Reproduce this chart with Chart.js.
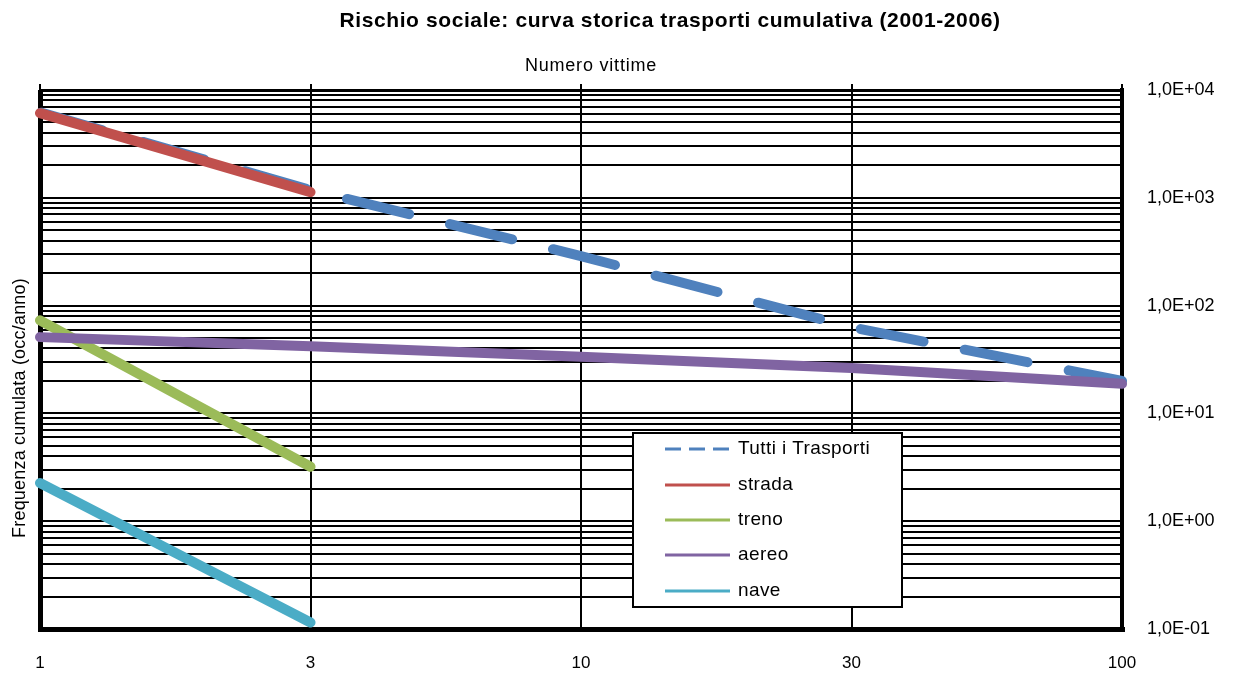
<!DOCTYPE html>
<html>
<head>
<meta charset="utf-8">
<script src="https://cdn.jsdelivr.net/npm/chart.js@4"></script>
<style>
  html, body { margin: 0; padding: 0; background: #fff; }
  #wrap { width: 1233px; height: 677px; position: relative; }
</style>
</head>
<body>
<div id="wrap"><canvas id="rischio"></canvas></div>
<script>
// categorie (numero vittime)
const categories = ["1", "3", "10", "30", "100"];

// frequenze cumulate (occ/anno)
const tutti  = [6200, 1180, 288, 63, 20];
const strada = [6100, 1130, null, null, null];
const treno  = [73, 3.2, null, null, null];
const aereo  = [51, 42, 33.6, 26.4, 18.8];
const nave   = [2.26, 0.115, null, null, null];

const yMajor = [0.1, 1, 10, 100, 1000, 10000];

const FONT = "'Liberation Sans', Arial, sans-serif";

// tick log: 1..9 x 10^k
function logTicks() {
  const out = [];
  for (let e = -1; e < 4; e++) {
    for (let d = 1; d <= 9; d++) out.push(+(d * Math.pow(10, e)).toPrecision(3));
  }
  out.push(10000);
  return out;
}

function sciLabel(v) {
  const e = Math.round(Math.log10(v));
  const sign = e < 0 ? "-" : "+";
  return "1,0E" + sign + String(Math.abs(e)).padStart(2, "0");
}

// testi e legenda disegnati a mano
const testi = {
  id: "testi",
  afterDraw(chart) {
    const c = chart.ctx;
    c.save();
    c.fillStyle = "#000";
    c.textAlign = "center";
    c.textBaseline = "middle";
    c.letterSpacing = "0.6px";
    c.font = "bold 21px " + FONT;
    c.fillText("Rischio sociale: curva storica trasporti cumulativa (2001-2006)", 670, 21);
    c.letterSpacing = "0.8px";
    c.font = "18px " + FONT;
    c.fillText("Numero vittime", 591, 66);
    c.letterSpacing = "0.2px";
    c.translate(20, 408);
    c.rotate(-Math.PI / 2);
    c.font = "18px " + FONT;
    c.fillText("Frequenza cumulata (occ/anno)", 0, 0);
    c.restore();

    // legenda
    c.save();
    c.fillStyle = "#fff";
    c.fillRect(633, 433, 269, 174);
    c.strokeStyle = "#000";
    c.lineWidth = 2;
    c.strokeRect(633, 433, 269, 174);
    const rows = [449, 485, 520, 555, 591];
    const ds = chart.data.datasets;
    c.font = "19px " + FONT;
    c.letterSpacing = "0.4px";
    c.textAlign = "left";
    c.textBaseline = "middle";
    ds.forEach((d, i) => {
      const y = rows[i];
      c.strokeStyle = d.borderColor;
      c.lineWidth = 3;
      c.setLineDash(d.borderDash && d.borderDash.length ? [16, 8] : []);
      c.beginPath();
      c.moveTo(665, y);
      c.lineTo(730, y);
      c.stroke();
      c.setLineDash([]);
      c.fillStyle = "#000";
      c.fillText(d.label, 738, y);
    });
    c.restore();
  }
};

function serie(label, data, color, order, dash) {
  return {
    label: label,
    data: data,
    borderColor: color,
    backgroundColor: color,
    borderWidth: 10,
    borderDash: dash || [],
    borderDashOffset: -1,
    borderCapStyle: "round",
    borderJoinStyle: "round",
    pointRadius: 0,
    fill: false,
    tension: 0,
    order: order
  };
}

new Chart("rischio", {
  type: "line",
  data: {
    labels: categories,
    datasets: [
      serie("Tutti i Trasporti", tutti, "#4F81BD", 5, [64, 42]),
      serie("strada", strada, "#C0504D", 4),
      serie("treno", treno, "#9BBB59", 3),
      serie("aereo", aereo, "#8064A2", 2),
      serie("nave", nave, "#4BACC6", 1)
    ]
  },
  options: {
    responsive: true,
    maintainAspectRatio: false,
    animation: false,
    layout: { padding: { left: 40, top: 0, right: 0, bottom: 0 } },
    plugins: {
      legend: { display: false },
      title: { display: false },
      tooltip: { enabled: false }
    },
    scales: {
      x: {
        type: "category",
        position: "bottom",
        offset: false,
        afterFit: (s) => { s.height = 48; },
        grid: {
          color: "#000",
          lineWidth: (ctx) => ctx.index === 0 ? 5 : 2,
          drawTicks: false
        },
        border: { display: true, color: "#000", width: 5 },
        ticks: { color: "#000", padding: 24, maxRotation: 0, font: { family: FONT, size: 17 } }
      },
      x2: {
        type: "category",
        labels: categories,
        position: "top",
        offset: false,
        afterFit: (s) => { s.height = 90; },
        grid: { color: "#000", lineWidth: 2, drawOnChartArea: false, tickLength: 6 },
        border: { display: true, color: "#000", width: 3 },
        ticks: { display: false }
      },
      y: {
        type: "logarithmic",
        position: "right",
        min: 0.1,
        max: 10000,
        afterFit: (s) => { s.width = 111; },
        afterBuildTicks: (s) => { s.ticks = logTicks().map(v => ({ value: v })); },
        grid: {
          color: "#000",
          lineWidth: 2,
          drawTicks: false
        },
        border: { display: true, color: "#000", width: 4 },
        ticks: {
          autoSkip: false,
          color: "#000",
          padding: 25,
          font: { family: FONT, size: 18 },
          callback: (v) => yMajor.some(m => Math.abs(m - v) < 1e-9) ? sciLabel(v) : ""
        }
      }
    }
  },
  plugins: [testi]
});
</script>
</body>
</html>
